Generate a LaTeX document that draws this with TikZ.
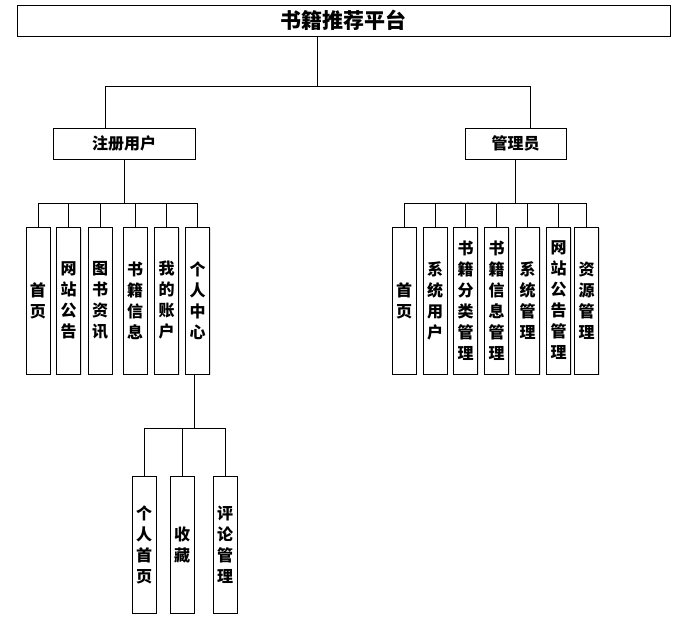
\documentclass[tikz,border=0pt]{standalone}
\usepackage{fontspec}
\setmainfont{Noto Sans CJK SC}
\usetikzlibrary{shadows}
\begin{document}
\begin{tikzpicture}[x=1pt,y=-1pt,
  box/.style={draw=black, line width=0.9pt, fill=white, inner sep=0pt, align=center,
    font=\bfseries\fontsize{16}{21}\selectfont,
    drop shadow={opacity=0.25, shadow xshift=1.3pt, shadow yshift=-1.3pt, fill=gray}},
  vbox/.style={box, minimum width=24pt, minimum height=147pt},
  sbox/.style={box, minimum width=24pt, minimum height=137pt},
  conn/.style={draw=black, line width=0.9pt}]
\useasboundingbox (0,0) rectangle (686,625);
% top
\node[box, minimum width=653pt, minimum height=31pt, font=\bfseries\fontsize{21}{24}\selectfont] (title) at (343.5,20.5) {书籍推荐平台};
\node[box, minimum width=142pt, minimum height=31pt] (reg) at (124,143.5) {注册用户};
\node[box, minimum width=101pt, minimum height=31pt] (adm) at (515.5,143.5) {管理员};
\draw[conn] (title.south -| 317,0) -- (317,86) -| (reg.north -| 105,0);
\draw[conn] (317,86) -| (adm.north -| 530,0);
% left group
\node[vbox] (l1) at (38,300.5) {首\\页};
\node[vbox] (l2) at (68.5,300.5) {网\\站\\公\\告};
\node[vbox] (l3) at (100,300.5) {图\\书\\资\\讯};
\node[vbox] (l4) at (135,300.5) {书\\籍\\信\\息};
\node[vbox] (l5) at (166.5,300.5) {我\\的\\账\\户};
\node[vbox] (l6) at (197.5,300.5) {个\\人\\中\\心};
\coordinate (lb) at (reg.south |- 0,203);
\draw[conn] (reg.south) -- (lb);
\foreach \n in {l1,l2,l3,l4,l5,l6} \draw[conn] (lb) -| (\n.north);
% right group
\node[vbox] (r1) at (404,300.5) {首\\页};
\node[vbox] (r2) at (435,300.5) {系\\统\\用\\户};
\node[vbox] (r3) at (465.5,300.5) {书\\籍\\分\\类\\管\\理};
\node[vbox] (r4) at (496.5,300.5) {书\\籍\\信\\息\\管\\理};
\node[vbox] (r5) at (527.5,300.5) {系\\统\\管\\理};
\node[vbox] (r6) at (558.5,300.5) {网\\站\\公\\告\\管\\理};
\node[vbox] (r7) at (586.5,300.5) {资\\源\\管\\理};
\coordinate (rb) at (adm.south |- 0,203);
\draw[conn] (adm.south) -- (rb);
\foreach \n in {r1,r2,r3,r4,r5,r6,r7} \draw[conn] (rb) -| (\n.north);
% third level
\node[sbox] (p1) at (144,544.5) {个\\人\\首\\页};
\node[sbox] (p2) at (182,544.5) {收\\藏};
\node[sbox] (p3) at (225,544.5) {评\\论\\管\\理};
\coordinate (pb) at (194,428);
\draw[conn] (l6.south -| 194,0) -- (pb);
\foreach \n in {p1,p2,p3} \draw[conn] (pb) -| (\n.north);
\end{tikzpicture}
\end{document}
